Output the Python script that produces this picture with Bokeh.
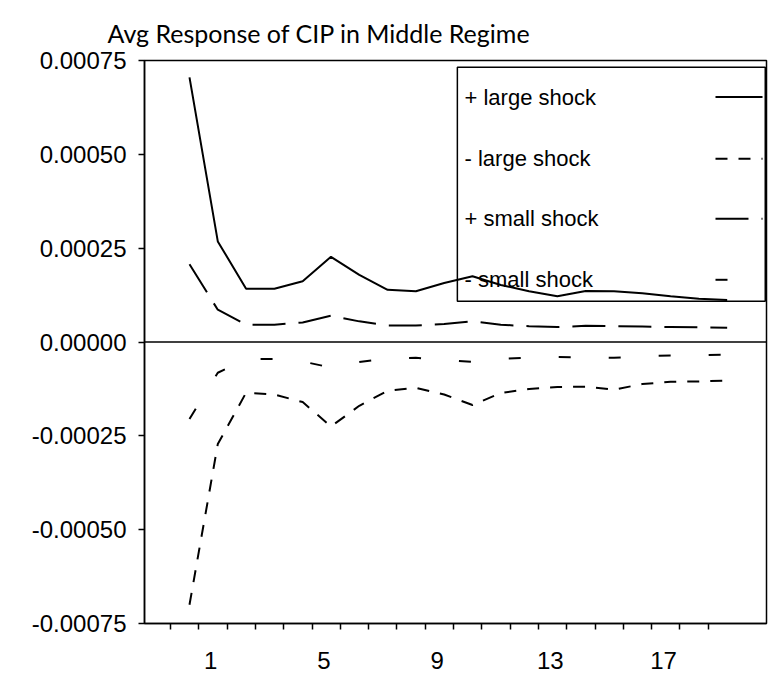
from bokeh.plotting import figure
from bokeh.models import (Range1d, FixedTicker, PrintfTickFormatter, Span, Label,
                          BoxAnnotation, Arrow, Title)
from bokeh.embed import file_html
from bokeh.resources import INLINE

# ---- data ----
periods = list(range(1, 21))
pos_large = [0.000705, 0.000268, 0.000142, 0.000142, 0.000162, 0.000227, 0.000179,
             0.000139, 0.000135, 0.000157, 0.000175, 0.000152, 0.000135, 0.000122,
             0.000136, 0.000135, 0.000130, 0.000122, 0.000115, 0.000112]
neg_large = [-0.000700, -0.000272, -0.000135, -0.000140, -0.000160, -0.000225, -0.000170,
             -0.000130, -0.000122, -0.000140, -0.000168, -0.000136, -0.000125, -0.000120,
             -0.000119, -0.000127, -0.000112, -0.000106, -0.000105, -0.000103]
pos_small = [0.000207, 0.000086, 0.000046, 0.000046, 0.000052, 0.000070, 0.000055,
             0.000044, 0.000044, 0.000048, 0.000055, 0.000046, 0.000042, 0.000040,
             0.000043, 0.000042, 0.000041, 0.000040, 0.000039, 0.000038]
neg_small = [-0.000205, -0.000082, -0.000046, -0.000045, -0.000052, -0.000068, -0.000053,
             -0.000044, -0.000042, -0.000048, -0.000053, -0.000045, -0.000042, -0.000040,
             -0.000041, -0.000042, -0.000038, -0.000036, -0.000035, -0.000034]
series_labels = ["+ large shock", "- large shock", "+ small shock", "- small shock"]
y_ticks = [-0.00075, -0.0005, -0.00025, 0.0, 0.00025, 0.0005, 0.00075]
x_tick_labels = [1, 5, 9, 13, 17]
title_text = "Avg Response of CIP in Middle Regime"

# ---- styles ----
dashes = ["solid", "12 11", "33 13", "12 38"]
FONT = "Liberation Sans"
TITLE_FONT = "Lato"

X0, X1 = -0.59, 21.39
Y0, Y1 = -0.00075, 0.00075

p = figure(width=776, height=675, output_backend="svg", toolbar_location=None,
           x_range=Range1d(X0, X1), y_range=Range1d(Y0, Y1),
           min_border_left=144, min_border_right=10, min_border_top=60,
           min_border_bottom=52, title=None)
p.grid.visible = False
p.outline_line_color = "black"
p.outline_line_width = 1.5
p.background_fill_color = "white"
p.border_fill_color = "white"

p.add_layout(Title(text=title_text, align="left", offset=-37, standoff=26,
                   text_font=TITLE_FONT, text_font_size="25px",
                   text_font_style="normal", text_color="black"), "above")

# zero line
p.add_layout(Span(location=0, dimension="width", line_color="black", line_width=1.5))

for ys, d in zip([pos_large, neg_large, pos_small, neg_small], dashes):
    p.line(periods, ys, line_color="black", line_width=2, line_dash=d)

# x axis: tick marks at period boundaries, labels between
xa = p.xaxis[0]
xa.ticker = FixedTicker(ticks=[n + 0.75 for n in x_tick_labels],
                        minor_ticks=[k + 0.33 for k in range(20)])
xa.major_label_overrides = {n + 0.75: str(n) for n in x_tick_labels}
xa.major_tick_out = 0
xa.major_tick_in = 0
xa.minor_tick_out = 6
xa.minor_tick_in = 0
xa.minor_tick_line_color = "black"
xa.minor_tick_line_width = 1.5
xa.axis_line_color = "black"
xa.axis_line_width = 1.5
xa.major_label_standoff = 22
xa.major_label_text_font = FONT
xa.major_label_text_font_size = "24px"
xa.major_label_text_color = "black"

ya = p.yaxis[0]
ya.ticker = FixedTicker(ticks=y_ticks, minor_ticks=[])
ya.formatter = PrintfTickFormatter(format="%.5f")
ya.major_tick_out = 6
ya.major_tick_in = 0
ya.major_tick_line_color = "black"
ya.major_tick_line_width = 1.5
ya.axis_line_color = "black"
ya.axis_line_width = 1.5
ya.major_label_standoff = 12
ya.major_label_text_font = FONT
ya.major_label_text_font_size = "24px"
ya.major_label_text_color = "black"

# ---- manual legend (labels left, line samples right) ----
def fx(f):
    return X0 + f * (X1 - X0)

def fy(f):
    return Y0 + f * (Y1 - Y0)

p.add_layout(BoxAnnotation(left=fx(0.503), right=fx(0.998), bottom=fy(0.5725), top=fy(0.988),
                           fill_alpha=0, line_color="black", line_alpha=1.0, line_width=1.5))
row_y = [0.935, 0.8254, 0.7188, 0.6105]
for lab, d, ry in zip(series_labels, dashes, row_y):
    p.add_layout(Label(x=fx(0.5145), y=fy(ry), text=lab, text_baseline="middle",
                       text_font=FONT, text_font_size="22px", text_color="black"))
    p.add_layout(Arrow(x_start=fx(0.918), y_start=fy(ry), x_end=fx(0.9936), y_end=fy(ry),
                       start=None, end=None, line_color="black", line_width=2,
                       line_dash=d))

open("out.html", "w").write(file_html(p, INLINE))
